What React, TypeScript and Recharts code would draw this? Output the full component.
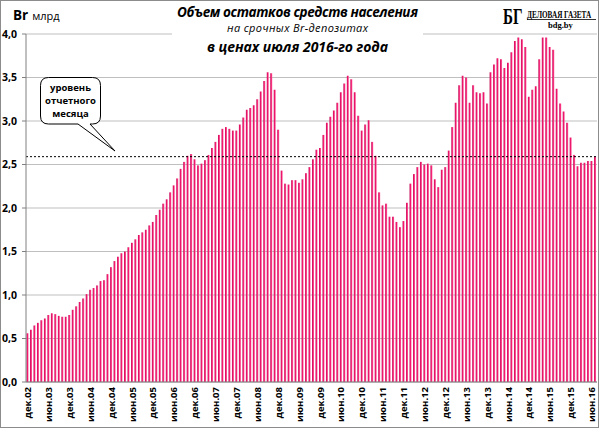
import {
  Bar,
  BarChart,
  CartesianGrid,
  ReferenceLine,
  XAxis,
  YAxis,
} from "recharts";

// остатки срочных Br-депозитов населения, млрд Br в ценах июля 2016 г.
// помесячно, дек.2002 – июл.2016
const deposits = [
  0.56, 0.6, 0.65, 0.68, 0.71, 0.73, 0.77, 0.79, 0.78, 0.76, 0.75, 0.75, 0.77,
  0.83, 0.87, 0.92, 0.96, 1.01, 1.06, 1.08, 1.11, 1.16, 1.17, 1.24, 1.32, 1.39,
  1.44, 1.48, 1.5, 1.55, 1.6, 1.64, 1.69, 1.72, 1.75, 1.8, 1.84, 1.92, 1.98,
  2.05, 2.1, 2.18, 2.26, 2.34, 2.45, 2.53, 2.6, 2.62, 2.56, 2.49, 2.51, 2.55,
  2.61, 2.69, 2.76, 2.84, 2.91, 2.93, 2.91, 2.89, 2.89, 2.96, 3.04, 3.13, 3.15,
  3.18, 3.25, 3.34, 3.46, 3.56, 3.55, 3.36, 2.9, 2.43, 2.28, 2.27, 2.32, 2.32,
  2.29, 2.33, 2.4, 2.47, 2.56, 2.67, 2.69, 2.84, 2.98, 3.05, 3.12, 3.21, 3.33,
  3.43, 3.52, 3.48, 3.33, 3.06, 2.89, 2.96, 3.01, 2.76, 2.6, 2.18, 2.03, 2.05,
  1.9, 1.9, 1.84, 1.78, 1.85, 2.06, 2.28, 2.39, 2.47, 2.53, 2.5, 2.51, 2.49,
  2.33, 2.24, 2.44, 2.47, 2.66, 2.93, 3.21, 3.41, 3.52, 3.5, 3.21, 3.41, 3.33,
  3.32, 3.33, 3.2, 3.56, 3.65, 3.72, 3.71, 3.61, 3.67, 3.79, 3.92, 3.96, 3.94,
  3.85, 3.28, 3.36, 3.4, 3.71, 3.96, 3.96, 3.85, 3.82, 3.37, 3.2, 3.11, 2.98,
  2.81, 2.61, 2.48, 2.52, 2.52, 2.54, 2.54, 2.59,
];

const monthNames = [
  "янв", "фев", "мар", "апр", "май", "июн",
  "июл", "авг", "сен", "окт", "ноя", "дек",
];

// подписи месяцев: дек.02, янв.03, ...
const months = deposits.map((_, i) => {
  const m = (11 + i) % 12;
  const y = 2 + Math.floor((11 + i) / 12);
  return `${monthNames[m]}.${String(y).padStart(2, "0")}`;
});

const yTicks = [0, 0.5, 1, 1.5, 2, 2.5, 3, 3.5, 4];
const currentLevel = 2.59;

const data = months.map((month, i) => ({ month, value: deposits[i] }));

const font = "'Open Sans', 'Liberation Sans', sans-serif";

function MonthTick(props: any) {
  const { x, y, payload } = props;
  const ty = y + 5;
  return (
    <text
      x={x}
      y={ty}
      transform={`rotate(-90, ${x}, ${ty})`}
      textAnchor="end"
      dy="0.35em"
      fontSize={9.5}
      fontWeight="bold"
      fontFamily={font}
      fill="#000"
    >
      {payload.value}
    </text>
  );
}

export default function App() {
  return (
    <div
      style={{
        position: "relative",
        width: 600,
        height: 429,
        background: "#fff",
        boxSizing: "border-box",
      }}
    >
      <style>{"body{margin:0}"}</style>
      <svg width={0} height={0} style={{ position: "absolute" }}>
        <defs>
          <linearGradient id="barGrad" x1="0" y1="0" x2="1" y2="0">
            <stop offset="0" stopColor="#c0105a" />
            <stop offset="0.5" stopColor="#f5186f" />
            <stop offset="1" stopColor="#ff72a8" />
          </linearGradient>
        </defs>
      </svg>

      <BarChart
        width={600}
        height={429}
        data={data}
        margin={{ top: 34, right: 3, bottom: 2, left: 0 }}
        barCategoryGap="15%"
      >
        <CartesianGrid stroke="#bfbfbf" vertical={false} />
        <XAxis
          dataKey="month"
          interval={5}
          height={45}
          tickLine={false}
          tickSize={0}
          tickMargin={0}
          axisLine={{ stroke: "#808080" }}
          tick={<MonthTick />}
        />
        <YAxis
          domain={[0, 4]}
          ticks={yTicks}
          width={26}
          tickSize={4}
          tickMargin={5}
          axisLine={{ stroke: "#808080" }}
          tickLine={{ stroke: "#808080" }}
          tick={{
            fontSize: 10.5,
            fontWeight: "bold",
            fontFamily: font,
            fill: "#000",
          }}
          tickFormatter={(v: number) => v.toFixed(1).replace(".", ",")}
        />
        <Bar
          dataKey="value"
          fill="url(#barGrad)"
          isAnimationActive={false}
        />
        <ReferenceLine
          y={currentLevel}
          stroke="#000"
          strokeDasharray="2 2"
          strokeWidth={1}
        />
      </BarChart>

      <svg
        width={600}
        height={429}
        style={{ position: "absolute", left: 0, top: 0, pointerEvents: "none" }}
      >
        <rect x={0.5} y={0.5} width={598} height={427} fill="none" stroke="#8c8c8c" />

        <rect x={172} y={2} width={251} height={54} fill="#fff" />
        <g fontFamily={font} fontStyle="italic" textAnchor="middle" fill="#000">
          <text x={297.5} y={17} fontSize={13.5} fontWeight="bold" textLength={241}>
            Объем  остатков  средств  населения
          </text>
          <text x={297.5} y={32} fontSize={11} textLength={141}>
            на срочных Br-депозитах
          </text>
          <text x={297.5} y={52} fontSize={14} fontWeight="bold" textLength={181}>
            в ценах  июля  2016-го года
          </text>
        </g>

        <text x={13} y={20} fontFamily={font} fill="#000">
          <tspan fontSize={13.5} fontWeight="bold">Br</tspan>
          <tspan fontSize={11} dx={4}>млрд</tspan>
        </text>

        <g fontFamily="'Liberation Serif', serif" fontWeight="bold" fill="#000">
          <text transform="translate(503 24) scale(1 1.5)" fontSize={15}>
            БГ
          </text>
          <text transform="translate(527 18) scale(1 1.45)" fontSize={7.2}>
            ДЕЛОВАЯ ГАЗЕТА
          </text>
          <line x1={527} y1={19.5} x2={596} y2={19.5} stroke="#000" strokeWidth={0.8} />
          <text x={548} y={28} fontSize={8.5}>
            bdg.by
          </text>
        </g>

        <path
          d="M48.5 77.5 H92.5 Q100.5 77.5 100.5 85.5 V116 Q100.5 124 92.5 124 H90 L115 151 L78 124 H48.5 Q40.5 124 40.5 116 V85.5 Q40.5 77.5 48.5 77.5 Z"
          fill="#fff"
          stroke="#000"
          strokeWidth={1}
        />
        <g fontFamily={font} fontWeight="bold" fontSize={9.5} textAnchor="middle" fill="#000">
          <text x={70.5} y={91}>уровень</text>
          <text x={70.5} y={104}>отчетного</text>
          <text x={70.5} y={117}>месяца</text>
        </g>
      </svg>
    </div>
  );
}
